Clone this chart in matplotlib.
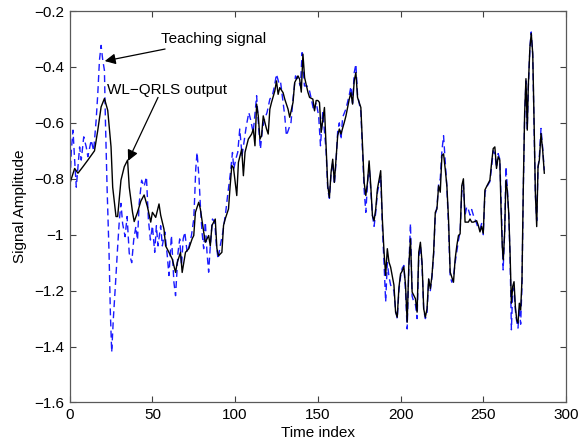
import matplotlib
matplotlib.use("Agg")
import matplotlib.pyplot as plt

plt.rcParams['font.family'] = ['Liberation Sans', 'DejaVu Sans']

# WL-QRLS output (black solid): time index, amplitude
out_t = [0, 1, 3, 5, 8, 11, 15, 17, 19, 21, 23, 25, 26, 28, 29, 31, 33, 35, 36, 38,
         39, 41, 43, 45, 47, 49, 50, 52, 54, 55, 57, 58, 60, 62, 64, 65, 67, 68, 70, 72,
         74, 75, 76, 78, 79, 81, 82, 84, 85, 86, 88, 89, 90, 92, 93, 94, 96, 97, 98, 99,
         101, 102, 104, 105, 106, 108, 110, 111, 112, 113, 114, 115, 116, 117, 119, 120,
         121, 122, 124, 125, 126, 127, 129, 130, 132, 133, 135, 136, 138, 139, 140, 141,
         142, 144, 145, 147, 148, 149, 150, 151, 152, 154, 155, 156, 157, 158, 159, 160,
         161, 162, 163, 164, 166, 167, 169, 170, 171, 172, 173, 174, 176, 177, 178, 179,
         180, 181, 182, 183, 184, 185, 186, 188, 189, 190, 191, 192, 193, 194, 196, 197,
         198, 199, 200, 201, 202, 203, 204, 205, 206, 207, 208, 209, 210, 211, 212, 213,
         214, 215, 216, 217, 218, 219, 220, 221, 222, 223, 224, 225, 226, 227, 228, 229,
         230, 231, 232, 233, 234, 235, 236, 237, 238, 239, 240, 241, 242, 243, 244, 246,
         247, 248, 249, 250, 251, 252, 254, 255, 256, 257, 258, 259, 260, 260.7, 261.5,
         262.1, 262.9, 263.7, 264.5, 265.4, 266.2, 267, 267.8, 268.6, 269.4, 270.2, 271,
         271.8, 272.6, 273.4, 274.2, 275, 275.8, 276.6, 277.2, 278.2, 279, 279.9, 280.7,
         281.5, 282.3, 283.1, 283.9, 284.9, 285.9, 286.9]
out_y = [-0.82, -0.80, -0.763, -0.78, -0.757, -0.733, -0.70, -0.626, -0.543, -0.513,
         -0.555, -0.686, -0.83, -0.935, -0.935, -0.805, -0.757, -0.733, -0.83, -0.92,
         -0.953, -0.92, -0.88, -0.858, -0.90, -0.955, -0.92, -0.938, -0.89, -0.93,
         -0.98, -1.04, -1.063, -1.087, -1.135, -1.10, -1.063, -1.135, -1.063, -1.05,
         -1.015, -1.003, -0.92, -0.884, -0.908, -0.99, -1.027, -1.003, -1.04, -0.967,
         -0.944, -1.05, -1.075, -1.063, -0.967, -0.944, -0.908, -0.825, -0.753, -0.76,
         -0.86, -0.741, -0.694, -0.789, -0.705, -0.658, -0.64, -0.622, -0.682, -0.533,
         -0.575, -0.658, -0.646, -0.575, -0.622, -0.64, -0.551, -0.527, -0.486, -0.45,
         -0.498, -0.474, -0.492, -0.515, -0.551, -0.58, -0.527, -0.456, -0.432, -0.444,
         -0.49, -0.354, -0.438, -0.49, -0.509, -0.515, -0.557, -0.52, -0.52, -0.527,
         -0.634, -0.545, -0.682, -0.825, -0.867, -0.777, -0.73, -0.813, -0.73, -0.646,
         -0.622, -0.64, -0.598, -0.575, -0.515, -0.492, -0.533, -0.45, -0.42, -0.509,
         -0.545, -0.682, -0.813, -0.86, -0.813, -0.736, -0.825, -0.932, -0.95, -0.908,
         -0.837, -0.771, -0.944, -1.06, -1.146, -1.05, -1.098, -1.116, -1.18, -1.277,
         -1.295, -1.19, -1.14, -1.13, -1.115, -1.18, -1.313, -1.11, -1.015, -1.205,
         -1.217, -1.229, -1.277, -1.063, -1.027, -1.098, -1.265, -1.295, -1.265, -1.158,
         -1.193, -1.146, -1.063, -0.92, -0.908, -0.825, -0.848, -0.717, -0.711, -0.765,
         -0.825, -0.944, -1.134, -1.152, -1.17, -1.087, -1.04, -1.003, -0.997, -0.825,
         -0.80, -0.955, -0.955, -0.955, -0.944, -0.955, -0.955, -0.95, -0.967, -0.99,
         -0.97, -0.995, -0.84, -0.828, -0.805, -0.745, -0.692, -0.686, -0.763, -0.721,
         -0.733, -0.90, -1.043, -1.09, -0.995, -0.805, -0.84, -0.924, -1.066, -1.245,
         -1.185, -1.168, -1.257, -1.304, -1.316, -1.245, -1.269, -1.162, -0.828, -0.567,
         -0.442, -0.626, -0.471, -0.33, -0.28, -0.352, -0.59, -0.852, -0.971, -0.757,
         -0.733, -0.638, -0.697, -0.78]

# Teaching signal (blue dashed)
teach_t = [0, 1, 2, 3, 4, 6, 7, 8.5, 10, 11, 13, 14.5, 16, 17, 18, 19, 20, 21, 21.6,
           22.6, 23.8, 24.6, 25.4, 26.4, 27.6, 29, 30, 31, 32, 33.5, 34.7, 36, 37.5,
           38.7, 40, 41, 42, 43.5, 45, 46.4, 47.6, 48.8, 50, 51.4, 52.4, 53.4, 55, 56,
           57.5, 59, 60, 61.5, 63, 64, 65.5, 66.5, 67.6, 68.6, 69.6, 71, 72.2, 73.6, 75,
           75.6, 76.2, 77, 78.2, 79, 80, 81, 82, 83, 84, 85, 86.3, 87.7, 88.7, 89.7, 91,
           92.6, 94.3, 95.7, 97.2, 98.4, 99.2, 100.4, 101.6, 102.8, 104.2, 105.6, 106.8,
           108.3, 109.3, 110.9, 111.7, 113, 114.3, 115.3, 116.5, 117.8, 119.3, 121, 122.5,
           123.8, 125, 126.4, 127.4, 129, 130, 131, 132.4, 133.8, 135, 136.5, 138, 139.5,
           140.5, 141.9, 143.5, 145, 146.5, 147.5, 149, 150.5, 151.6, 153, 155, 156, 157,
           158, 159, 160, 161, 162, 163, 164, 165, 167, 169, 170, 171, 172, 173, 174, 176,
           177, 178, 179, 180, 181, 182, 183, 184, 185, 186, 188, 189, 190, 191, 192, 193,
           194, 196, 197, 198, 199, 200, 201, 202, 203, 204, 205, 206, 207, 208, 209, 210,
           211, 212, 213, 214, 215, 216, 217, 218, 219, 220, 221, 222, 223, 224, 225, 226,
           227, 228, 229, 230, 231, 232, 233, 234, 235, 236, 237, 238, 239, 240, 241, 242,
           243, 244, 246, 247, 248, 249, 250, 251, 252, 254, 255, 256, 257, 258, 259, 260,
           261, 262, 263, 263.7, 264.5, 265.4, 266.2, 267, 267.8, 268.6, 269.4, 270.2, 271,
           271.8, 272.6, 273.4, 274.2, 275, 275.8, 276.6, 277.2, 278.2, 279, 279.9, 280.7,
           281.5, 282.3, 283.1, 283.9, 284.9, 285.9, 286.9]
teach_y = [-0.84, -0.70, -0.626, -0.733, -0.83, -0.686, -0.733, -0.65, -0.686, -0.721,
           -0.662, -0.70, -0.59, -0.495, -0.376, -0.323, -0.376, -0.412, -0.59, -0.83,
           -1.066, -1.28, -1.42, -1.30, -1.185, -1.043, -0.95, -0.888, -0.96, -1.007,
           -0.935, -1.066, -1.10, -1.019, -0.971, -1.019, -0.888, -0.805, -0.828, -0.793,
           -0.947, -1.019, -0.968, -1.063, -0.968, -1.04, -0.968, -1.04, -0.99, -1.075,
           -1.146, -1.003, -1.17, -1.218, -1.063, -1.015, -1.11, -1.015, -0.991, -1.063,
           -1.04, -1.003, -0.944, -0.86, -0.765, -0.706, -0.80, -0.896, -0.991, -1.05,
           -0.955, -1.063, -1.134, -1.04, -0.944, -0.955, -1.04, -1.087, -1.04, -0.991,
           -0.92, -0.848, -0.777, -0.706, -0.765, -0.73, -0.705, -0.622, -0.717, -0.658,
           -0.61, -0.563, -0.587, -0.634, -0.587, -0.503, -0.622, -0.694, -0.622, -0.587,
           -0.563, -0.515, -0.503, -0.468, -0.426, -0.456, -0.45, -0.527, -0.575, -0.646,
           -0.622, -0.598, -0.515, -0.432, -0.444, -0.468, -0.349, -0.468, -0.468, -0.486,
           -0.527, -0.557, -0.527, -0.575, -0.682, -0.56, -0.70, -0.84, -0.87, -0.78,
           -0.74, -0.82, -0.74, -0.63, -0.60, -0.66, -0.58, -0.55, -0.50, -0.47, -0.53,
           -0.42, -0.39, -0.50, -0.56, -0.70, -0.84, -0.92, -0.82, -0.75, -0.84, -0.93,
           -0.97, -0.92, -0.85, -0.79, -0.97, -1.10, -1.24, -1.10, -1.15, -1.18, -1.20,
           -1.27, -1.30, -1.20, -1.15, -1.12, -1.11, -1.20, -1.337, -1.12, -0.96, -1.22,
           -1.24, -1.25, -1.30, -1.08, -1.04, -1.11, -1.27, -1.30, -1.28, -1.16, -1.20,
           -1.15, -1.07, -0.93, -0.90, -0.82, -0.80, -0.70, -0.646, -0.74, -0.83, -0.97,
           -1.15, -1.17, -1.15, -1.10, -1.06, -1.02, -0.99, -0.85, -0.82, -0.93, -0.90,
           -0.91, -0.93, -0.91, -0.93, -0.96, -0.98, -0.98, -0.96, -1.00, -0.85, -0.83,
           -0.81, -0.76, -0.70, -0.71, -0.76, -0.71, -0.73, -0.92, -1.126, -0.98, -0.757,
           -0.83, -0.93, -1.08, -1.34, -1.20, -1.19, -1.27, -1.31, -1.334, -1.26, -1.32,
           -1.18, -0.84, -0.58, -0.45, -0.62, -0.48, -0.33, -0.275, -0.36, -0.60, -0.86,
           -0.95, -0.76, -0.72, -0.62, -0.69, -0.77]

x_ticks = [0, 50, 100, 150, 200, 250, 300]
y_ticks = [-1.6, -1.4, -1.2, -1.0, -0.8, -0.6, -0.4, -0.2]
y_tick_labels = ['\u22121.6', '\u22121.4', '\u22121.2', '\u22121', '\u22120.8',
                 '\u22120.6', '\u22120.4', '\u22120.2']

fig = plt.figure(figsize=(5.87, 4.42), dpi=100)
ax = fig.add_axes([0.1187, 0.0894, 0.8455, 0.8857])

ax.plot(teach_t, teach_y, color='#1a1aff', linestyle=(0, (5, 3)), linewidth=1.0)
ax.plot(out_t, out_y, color='k', linewidth=1.0)

ax.set_xlim(0, 300)
ax.set_ylim(-1.6, -0.2)
ax.set_xticks(x_ticks)
ax.set_yticks(y_ticks)
ax.set_yticklabels(y_tick_labels)
ax.tick_params(direction='in', top=True, right=True, length=4, width=0.8,
               labelsize=11, colors='0.25', labelcolor='k', pad=4)
for s in ax.spines.values():
    s.set_color('0.35')
    s.set_linewidth(0.9)

ax.set_xlabel('Time index', fontsize=11, labelpad=3)
ax.set_ylabel('Signal Amplitude', fontsize=11, labelpad=5)

arrow = dict(arrowstyle='-|>', color='k', lw=0.9, mutation_scale=16, shrinkA=0, shrinkB=0)
ax.annotate('Teaching signal', xy=(21.2, -0.379), xytext=(55.5, -0.301),
            fontsize=11, va='center', ha='left', arrowprops=arrow)
ax.annotate('WL\u2212QRLS output', xy=(35.3, -0.736), xytext=(22.4, -0.482),
            fontsize=11, va='center', ha='left')
ax.annotate('', xy=(35.3, -0.736), xytext=(53.4, -0.509), arrowprops=arrow)

fig.savefig('out.png', dpi=100)
